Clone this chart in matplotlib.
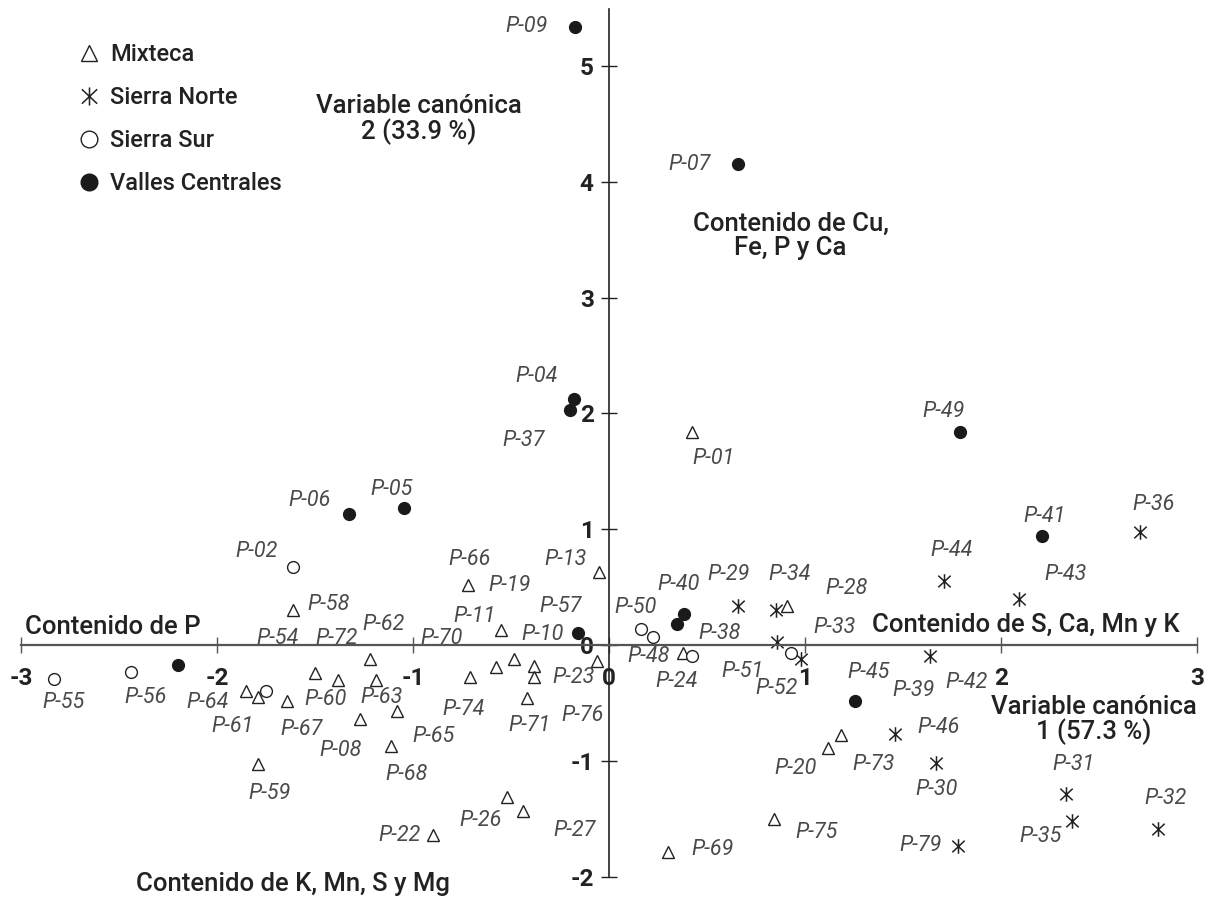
import numpy as np
import matplotlib
matplotlib.use("Agg")
from matplotlib import pyplot as plt
from matplotlib.lines import Line2D
from matplotlib.path import Path

plt.rcParams['font.family'] = ['Roboto', 'DejaVu Sans']

# Canonical scores (x = variable canónica 1, y = variable canónica 2)
mixteca_x = [-1.61, -1.85, -1.79, -1.645, -1.79, -1.50, -1.38, -1.22, -1.19, -1.27, -1.08,
             -1.11, -0.71, -0.575, -0.486, -0.38, -0.385, -0.417, -0.55, -0.72, -0.06, -0.05,
             -0.52, -0.44, -0.897, 0.423, 0.376, 0.91, 1.184, 1.119, 0.842, 0.30]
mixteca_y = [0.30, -0.40, -0.45, -0.48, -1.03, -0.24, -0.30, -0.12, -0.30, -0.64, -0.57,
             -0.87, -0.28, -0.19, -0.12, -0.18, -0.28, -0.46, 0.13, 0.52, -0.14, 0.63,
             -1.31, -1.43, -1.64, 1.84, -0.066, 0.337, -0.78, -0.887, -1.505, -1.79]

norte_x = [0.66, 0.852, 0.856, 0.979, 1.639, 2.09, 1.71, 2.71, 1.457, 1.668, 2.33, 2.36, 2.80, 1.78]
norte_y = [0.337, 0.30, 0.03, -0.124, -0.095, 0.395, 0.555, 0.973, -0.77, -1.02, -1.29, -1.52, -1.59, -1.74]

sur_x = [-2.83, -2.44, -1.75, -1.61, 0.162, 0.225, 0.423, 0.929]
sur_y = [-0.29, -0.23, -0.40, 0.676, 0.136, 0.066, -0.095, -0.066]

valles_x = [-0.172, 0.656, -0.179, -0.197, -1.327, -1.048, 1.79, 2.21, 0.385, 0.347, -0.16, -2.20, 1.255]
valles_y = [5.34, 4.15, 2.12, 2.03, 1.13, 1.186, 1.84, 0.944, 0.268, 0.179, 0.106, -0.175, -0.48]

# sample labels and where they sit
lab_names = ['P-58', 'P-54', 'P-72', 'P-62', 'P-70', 'P-11', 'P-57', 'P-10', 'P-55', 'P-56',
             'P-64', 'P-61', 'P-60', 'P-63', 'P-67', 'P-08', 'P-65', 'P-74', 'P-71', 'P-76',
             'P-23', 'P-68', 'P-59', 'P-26', 'P-22', 'P-27', 'P-04', 'P-37', 'P-06', 'P-05',
             'P-02', 'P-66', 'P-19', 'P-13', 'P-49', 'P-01', 'P-41', 'P-36', 'P-44', 'P-43',
             'P-40', 'P-29', 'P-34', 'P-28', 'P-50', 'P-38', 'P-33', 'P-48', 'P-24', 'P-51',
             'P-52', 'P-45', 'P-39', 'P-42', 'P-46', 'P-73', 'P-20', 'P-30', 'P-31', 'P-32',
             'P-35', 'P-79', 'P-75', 'P-69', 'P-09', 'P-07']
lab_x = [-1.43, -1.69, -1.39, -1.15, -0.853, -0.687, -0.247, -0.338, -2.785, -2.365,
         -2.05, -1.92, -1.447, -1.16, -1.57, -1.37, -0.893, -0.742, -0.405, -0.137,
         -0.179, -1.034, -1.73, -0.657, -1.066, -0.177, -0.368, -0.435, -1.53, -1.11,
         -1.80, -0.713, -0.506, -0.219, 1.708, 0.532, 2.22, 2.776, 1.746, 2.33,
         0.356, 0.612, 0.92, 1.21, 0.138, 0.563, 1.15, 0.20, 0.345, 0.68,
         0.854, 1.322, 1.552, 1.823, 1.68, 1.35, 0.95, 1.67, 2.37, 2.84,
         2.20, 1.59, 1.06, 0.528, -0.423, 0.41]
lab_y = [0.35, 0.058, 0.052, 0.18, 0.052, 0.245, 0.33, 0.092, -0.498, -0.455,
         -0.50, -0.705, -0.47, -0.45, -0.73, -0.915, -0.786, -0.555, -0.697, -0.61,
         -0.28, -1.117, -1.28, -1.517, -1.643, -1.606, 2.32, 1.764, 1.246, 1.345,
         0.806, 0.74, 0.518, 0.74, 2.02, 1.608, 1.11, 1.215, 0.816, 0.61,
         0.525, 0.61, 0.61, 0.485, 0.326, 0.10, 0.15, -0.10, -0.317, -0.23,
         -0.374, -0.236, -0.395, -0.322, -0.714, -1.03, -1.065, -1.246, -1.03, -1.33,
         -1.65, -1.73, -1.62, -1.764, 5.34, 4.15]

x_ticks = [-3, -2, -1, 0, 1, 2, 3]
y_ticks = [-2, -1, 0, 1, 2, 3, 4, 5]

# asterisk: vertical bar plus an X
star = Path([(0, -1), (0, 1), (-0.85, -0.8), (0.85, 0.8), (-0.85, 0.8), (0.85, -0.8)],
            [Path.MOVETO, Path.LINETO] * 3)

fig = plt.figure(figsize=(12.06, 8.98), dpi=100)
ax = fig.add_axes([0, 0, 1, 1])

ax.plot(mixteca_x, mixteca_y, ls='none', marker='^', ms=8, mfc='white', mec='#222222', mew=1.0)
ax.plot(norte_x, norte_y, ls='none', marker=star, ms=10.5, mec='#222222', mew=1.1)
ax.plot(sur_x, sur_y, ls='none', marker='o', ms=8.5, mfc='white', mec='#222222', mew=1.0)
ax.plot(valles_x, valles_y, ls='none', marker='o', ms=8.5, mfc='#1a1a1a', mec='#1a1a1a')

for name, lx, ly in zip(lab_names, lab_x, lab_y):
    ax.text(lx, ly, name, ha='center', va='center', fontsize=15.5, style='italic',
            fontweight='normal', color='#4a4a4a')

ax.set_xlim(-3.107, 3.046)
ax.set_ylim(-2.185, 5.57)

for s in ['top', 'right']:
    ax.spines[s].set_visible(False)
ax.spines['bottom'].set_position(('data', 0))
ax.spines['left'].set_position(('data', 0))
ax.spines['bottom'].set_bounds(-3, 3)
ax.spines['left'].set_bounds(-2, 5.49)
ax.spines['bottom'].set_color('#555555')
ax.spines['bottom'].set_linewidth(1.6)
ax.spines['left'].set_color('#222222')
ax.spines['left'].set_linewidth(1.2)

ax.set_xticks(x_ticks)
ax.set_xticklabels([str(t) for t in x_ticks])
ax.set_yticks(y_ticks)
ax.set_yticklabels([str(t) for t in y_ticks])
ax.tick_params(axis='x', direction='inout', length=12, width=1.0, color='#555555', pad=10,
               labelsize=17.5)
ax.tick_params(axis='y', direction='inout', length=12, width=1.0, color='#222222', pad=5,
               labelsize=17.5)
for lab in ax.get_xticklabels() + ax.get_yticklabels():
    lab.set_fontweight('bold')
    lab.set_color('#222222')

note = dict(ha='center', va='center', fontsize=18.5, fontweight='medium', color='#222222',
            linespacing=1.0)
ax.text(-2.533, 0.158, 'Contenido de P', **note)
ax.text(2.128, 0.173, 'Contenido de S, Ca, Mn y K', **note)
ax.text(0.927, 3.536, 'Contenido de Cu,\nFe, P y Ca', **note)
ax.text(-0.97, 4.54, 'Variable canónica\n2 (33.9 %)', **note)
ax.text(2.474, -0.648, 'Variable canónica\n1 (57.3 %)', **note)
ax.text(-1.61, -2.064, 'Contenido de K, Mn, S y Mg', **note)

handles = [
    Line2D([], [], ls='none', marker='^', ms=12, mfc='white', mec='#222222', mew=1.0),
    Line2D([], [], ls='none', marker=star, ms=13, mec='#222222', mew=1.1),
    Line2D([], [], ls='none', marker='o', ms=12, mfc='white', mec='#222222', mew=1.0),
    Line2D([], [], ls='none', marker='o', ms=12, mfc='#1a1a1a', mec='#1a1a1a'),
]
leg = ax.legend(handles, ['Mixteca', 'Sierra Norte', 'Sierra Sur', 'Valles Centrales'],
                loc='upper left', bbox_to_anchor=(0.066, 0.952), frameon=False,
                prop={'size': 17, 'weight': 'medium'}, handlelength=0.8, handletextpad=0.5,
                labelspacing=0.85, borderaxespad=0, borderpad=0)
for t in leg.get_texts():
    t.set_color('#222222')

fig.savefig('out.png', dpi=100)
